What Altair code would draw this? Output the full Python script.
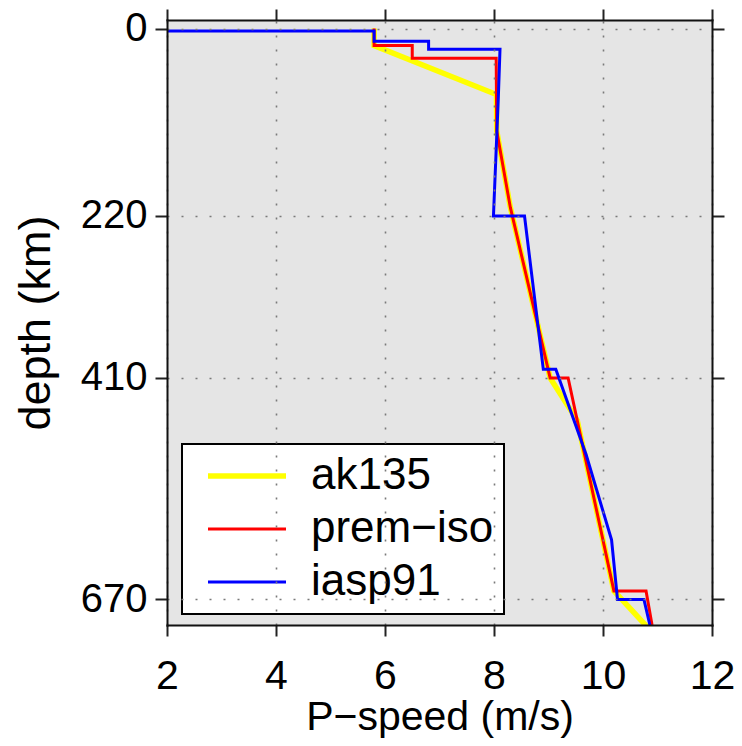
import altair as alt
import pandas as pd

# ---- data ----
models = ["ak135", "prem-iso", "iasp91"]
colors = ["#ffff00", "#ff0000", "#0000ff"]
widths = [5.5, 3, 3]

ak135_depth = [0, 20, 77.5, 120, 165, 210, 260, 310, 360, 410, 460, 510, 560, 610, 660, 710]
ak135_vp = [5.8, 5.8, 8.045, 8.05, 8.175, 8.30, 8.4825, 8.665, 8.8475, 9.03, 9.528, 9.696, 9.864, 10.032, 10.2, 10.923]

prem_depth = [0, 20, 20, 35, 35, 120, 210, 410, 410, 660, 660, 700]
prem_vp = [5.8, 5.8, 6.5, 6.5, 8.04, 8.05, 8.30, 9.03, 9.36, 10.20, 10.79, 10.90]

iasp_depth = [3, 3, 15, 15, 24.4, 24.4, 80, 220, 220, 400, 400, 500, 600, 670, 670, 700]
iasp_vp = [1.45, 5.8, 5.8, 6.8, 6.8, 8.11, 8.08, 7.99, 8.56, 8.905, 9.134, 9.69, 10.157, 10.266, 10.751, 10.86]

x_ticks = [2, 4, 6, 8, 10, 12]
y_ticks = [0, 220, 410, 670]
x_domain = [2, 12]
y_domain = [-10, 700]

rows = []
for name, ds, vs in [("ak135", ak135_depth, ak135_vp),
                     ("prem-iso", prem_depth, prem_vp),
                     ("iasp91", iasp_depth, iasp_vp)]:
    for i, (d, v) in enumerate(zip(ds, vs)):
        rows.append({"model": name, "depth": d, "vp": v, "idx": i})
df = pd.DataFrame(rows)

FONT = "Liberation Sans"

xs = alt.Scale(domain=x_domain, nice=False, zero=False)
ys = alt.Scale(domain=y_domain, nice=False, zero=False, reverse=True)
color_scale = alt.Scale(domain=models, range=colors)
width_scale = alt.Scale(type="ordinal", domain=models, range=widths)

legend = alt.Legend(
    orient="none", legendX=15, legendY=424, title=None,
    fillColor="white", strokeColor="black", padding=10,
    symbolType="M-3,0L3,0", symbolSize=676, symbolOffset=33,
    labelOffset=42, labelFontSize=44, labelFont=FONT, labelColor="black",
    labelLimit=400, rowPadding=9,
    labelExpr="replace(datum.label, '-', '\u2212')",
)

grid_style = dict(grid=True, gridDash=[2, 12], gridColor="#7a7a7a", gridWidth=1.6)
common = dict(domain=True, domainColor="#111111", domainWidth=2, domainCap="square",
              tickColor="#222222", tickWidth=2, zindex=1)

x_bottom = alt.Axis(orient="bottom", values=x_ticks, title="P\u2212speed (m/s)",
                    tickSize=11, labelFontSize=41, labelFont=FONT, labelColor="black",
                    labelPadding=52, labelBaseline="alphabetic", labelFlush=False,
                    labelOverlap=False, titleFont=FONT, titleFontSize=41,
                    titleFontWeight="normal", titleColor="black",
                    titleX=272.5, titleY=104, titleBaseline="alphabetic", titleAlign="center",
                    **grid_style, **common)
y_left = alt.Axis(orient="left", values=y_ticks, title="depth (km)",
                  tickSize=12, labelFontSize=40, labelFont=FONT, labelColor="black",
                  labelPadding=8, labelOverlap=False, titleFont=FONT, titleFontSize=45,
                  titleFontWeight="normal", titleColor="black",
                  titleX=-132, titleY=302.5, titleAngle=270, titleAlign="center",
                  titleBaseline="middle", **grid_style, **common)
x_top = alt.Axis(orient="top", values=x_ticks, labels=False, title=None, grid=False,
                 tickSize=11, **common)
y_right = alt.Axis(orient="right", values=y_ticks, labels=False, title=None, grid=False,
                   tickSize=12, **common)


def layer(name, xaxis, yaxis):
    return alt.Chart(df).transform_filter(alt.datum.model == name).mark_line(
        clip=True, strokeJoin="miter").encode(
        x=alt.X("vp:Q", scale=xs, axis=xaxis),
        y=alt.Y("depth:Q", scale=ys, axis=yaxis),
        color=alt.Color("model:N", scale=color_scale, legend=legend),
        strokeWidth=alt.StrokeWidth("model:N", scale=width_scale, legend=legend),
        order=alt.Order("idx:Q"),
    )


chart = alt.layer(
    layer("ak135", x_bottom, y_left),
    layer("prem-iso", None, None),
    layer("iasp91", x_top, y_right),
).resolve_axis(x="independent", y="independent").properties(
    width=545, height=605,
    padding={"left": 159, "top": 12, "right": 22, "bottom": 113},
    autosize=alt.AutoSizeParams(type="none"),
    background="white",
).configure_view(stroke=None, fill="#e5e5e5").configure_legend(strokeWidth=2)

chart.save("out.html", embed_options={"renderer": "svg", "actions": False})
